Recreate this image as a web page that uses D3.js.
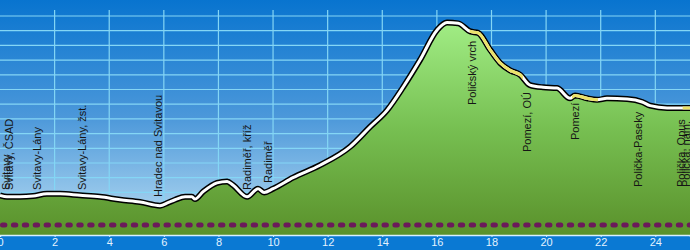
<!DOCTYPE html>
<html>
<head>
<meta charset="utf-8">
<style>
  body { margin: 0; background: #fff; }
  text { font-family: "Liberation Sans", Arial, sans-serif; }
</style>
</head>
<body>
<div id="container"></div>
<script src="https://cdn.jsdelivr.net/npm/d3@7"></script>
<script>

// profile: distance (km) and elevation (m)
const km = [0, 0.26, 0.73, 1.21, 1.72, 2.2, 2.93, 3.66, 4.4, 5.13, 5.86, 6.15, 6.41, 6.78, 7.03, 7.14,
            7.44, 7.95, 8.32, 8.53, 9.05, 9.45, 9.67, 10.0, 10.73, 11.72, 12.82, 13.55, 14.18, 14.76,
            15.38, 16.01, 16.37, 16.78, 17.22, 17.51, 17.95, 18.32, 18.68, 19.05, 19.41, 19.89, 20.4,
            20.88, 21.06, 21.5, 21.87, 22.23, 22.97, 23.52, 23.81, 24.43, 25.27];
const elev = [456, 454, 454, 455, 458, 458, 456, 454, 450, 447, 442, 446, 450, 454, 454, 451,
              461, 473, 475, 470, 454, 465, 460, 465, 480, 497, 522, 549, 572, 603,
              640, 681, 691, 690, 679, 677, 654, 636, 626, 620, 606, 603, 602,
              588, 592, 588, 586, 588, 587, 583, 578, 575, 575];

// yellow (other surface) sections, km from / to
const yellowFrom = [17.2, 20.95, 25.0];
const yellowTo   = [19.15, 21.9, 25.3];

// stops
const stopNames = ["Svitavy", "Svitavy, ČSAD", "Svitavy-Lány", "Svitavy-Lány, žst.", "Hradec nad Svitavou",
                   "Radiměř, kříž", "Radiměř", "Poličský vrch", "Pomezí, OÚ", "Pomezí",
                   "Polička-Paseky", "Polička, Opus", "Polička, nám."];
const stopKm = [0.22, 0.33, 1.35, 3.0, 5.79, 9.05, 9.82, 17.29, 19.3, 21.06, 23.37, 24.95, 25.13];

const xTicks = [0, 2, 4, 6, 8, 10, 12, 14, 16, 18, 20, 22, 24];

const width = 690;
const height = 250;
const plotBottom = 235;

const x = d3.scaleLinear().domain([0, 25.27]).range([0, width]);
const y = d3.scaleLinear().domain([400, 710]).range([236.5, 8.65]);

const data = km.map((k, i) => ({ km: k, elev: elev[i] }));

const svg = d3.create("svg")
    .attr("width", width)
    .attr("height", height);

const defs = svg.append("defs");

const sky = defs.append("linearGradient").attr("id", "sky")
    .attr("x1", 0).attr("y1", 0).attr("x2", 0).attr("y2", 1);
sky.append("stop").attr("offset", "0%").attr("stop-color", "#0874cf");
sky.append("stop").attr("offset", "50%").attr("stop-color", "#4c98da");
sky.append("stop").attr("offset", "100%").attr("stop-color", "#bcdff3");

const grass = defs.append("linearGradient").attr("id", "grass")
    .attr("gradientUnits", "userSpaceOnUse")
    .attr("x1", 0).attr("y1", 20).attr("x2", 0).attr("y2", plotBottom);
grass.append("stop").attr("offset", "0%").attr("stop-color", "#a2ee86");
grass.append("stop").attr("offset", "50%").attr("stop-color", "#77c052");
grass.append("stop").attr("offset", "100%").attr("stop-color", "#5a912b");

svg.append("rect")
    .attr("width", width).attr("height", plotBottom)
    .attr("fill", "url(#sky)");

// grid
const grid = svg.append("g").attr("stroke", "#84d6f5").attr("stroke-width", 1.2);
grid.selectAll("line.h").data(d3.range(420, 701, 20)).enter().append("line")
    .attr("x1", 0).attr("x2", width)
    .attr("y1", d => y(d)).attr("y2", d => y(d));
grid.selectAll("line.v").data(xTicks.filter(d => d > 0)).enter().append("line")
    .attr("x1", d => x(d)).attr("x2", d => x(d))
    .attr("y1", 10).attr("y2", plotBottom);

// terrain
const area = d3.area()
    .x(d => x(d.km)).y0(plotBottom).y1(d => y(d.elev))
    .curve(d3.curveMonotoneX);
const line = d3.line()
    .x(d => x(d.km)).y(d => y(d.elev))
    .curve(d3.curveMonotoneX);

svg.append("path").datum(data)
    .attr("d", area)
    .attr("fill", "url(#grass)");

svg.append("path").datum(data)
    .attr("d", line)
    .attr("fill", "none")
    .attr("stroke", "#000")
    .attr("stroke-width", 6)
    .attr("stroke-linejoin", "round");

svg.append("path").datum(data)
    .attr("d", line)
    .attr("fill", "none")
    .attr("stroke", "#fff")
    .attr("stroke-width", 3)
    .attr("stroke-linejoin", "round");

yellowFrom.forEach((f, i) => {
  defs.append("clipPath").attr("id", "yc" + i)
    .append("rect")
      .attr("x", x(f)).attr("y", 0)
      .attr("width", x(yellowTo[i]) - x(f)).attr("height", height);
  svg.append("path").datum(data)
      .attr("d", line)
      .attr("fill", "none")
      .attr("stroke", "#ebe36a")
      .attr("stroke-width", 3)
      .attr("clip-path", `url(#yc${i})`);
});

// dotted purple line
svg.append("line")
    .attr("x1", x(0) + 2.5).attr("x2", width)
    .attr("y1", 225).attr("y2", 225)
    .attr("stroke", "#6b1a5a")
    .attr("stroke-width", 5)
    .attr("stroke-linecap", "round")
    .attr("stroke-dasharray", "2.4 8.5");

// stop labels
const labelBottom = [190, 190, 190, 190, 197, 190, 183, 105, 152, 140, 187, 187, 187];
svg.append("g").selectAll("text").data(stopNames).enter().append("text")
    .attr("transform", (d, i) => `translate(${x(stopKm[i])}, ${labelBottom[i]}) rotate(-90)`)
    .attr("dy", "0.35em")
    .attr("font-size", 11)
    .attr("fill", "#151515")
    .text(d => d);

// bottom axis band
svg.append("rect")
    .attr("x", 0).attr("y", plotBottom)
    .attr("width", width).attr("height", height - plotBottom)
    .attr("fill", "#0a79d3");

const axis = svg.append("g")
    .attr("transform", `translate(0, ${plotBottom})`)
    .call(d3.axisBottom(x).tickValues(xTicks).tickSize(2).tickPadding(1));
axis.select(".domain").attr("stroke", "#d8f0ff").attr("stroke-width", 1.5);
axis.selectAll(".tick line").attr("stroke", "#d8f0ff");
axis.selectAll(".tick text")
    .attr("fill", "#e4f3ff")
    .attr("font-size", 11)
    .attr("font-family", "Liberation Sans, Arial, sans-serif");

container.append(svg.node());

</script>
</body>
</html>
